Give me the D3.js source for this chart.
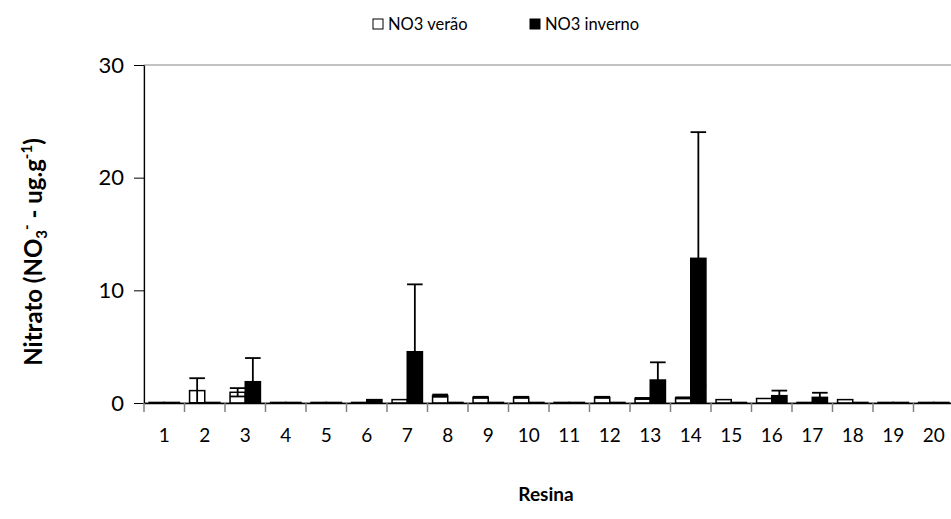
<!DOCTYPE html>
<html>
<head>
<meta charset="utf-8">
<script src="https://cdn.jsdelivr.net/npm/d3@7"></script>
<style>
  html, body { margin: 0; padding: 0; background: #fff; }
  svg { display: block; font-family: Lato, "Open Sans", sans-serif; }
</style>
</head>
<body>
<svg id="chart" width="951" height="519"></svg>
<script>
// Resin samples along the x axis
const categories = ["1","2","3","4","5","6","7","8","9","10","11","12","13","14","15","16","17","18","19","20"];
// Nitrate means (ug/g) for the summer (verão) and winter (inverno) campaigns
const verao   = [0.05, 1.1, 0.95, 0.05, 0.05, 0.05, 0.3, 0.65, 0.5, 0.5, 0.05, 0.5, 0.4, 0.45, 0.3, 0.4, 0.05, 0.3, 0.05, 0.05];
const inverno = [0.05, 0.05, 1.89, 0.05, 0.05, 0.3, 4.55, 0.05, 0.05, 0.05, 0.05, 0.05, 2.04, 12.84, 0.05, 0.65, 0.5, 0.05, 0.05, 0.05];
// Standard deviations (drawn as ± error bars)
const veraoErr   = [0, 1.1, 0.37, 0, 0, 0, 0, 0.1, 0.05, 0.05, 0, 0.05, 0.05, 0.05, 0, 0, 0, 0, 0, 0];
const invernoErr = [0, 0, 2.1, 0, 0, 0, 5.98, 0, 0, 0, 0, 0, 1.57, 11.2, 0, 0.45, 0.41, 0, 0, 0];
const yTicks = [0, 10, 20, 30];
const seriesNames = ["NO3 verão", "NO3 inverno"];

const svg = d3.select("#chart");
const plotLeft = 144, plotTop = 65, plotBottom = 403;
const band = 40.5;
const plotRight = plotLeft + band * categories.length;

const x = d3.scaleBand().domain(categories).range([plotLeft, plotRight]).paddingInner(0).paddingOuter(0);
const xs = d3.scaleBand().domain([0, 1]).range([0, x.bandwidth()]).paddingInner(0).paddingOuter(0.333);
const y = d3.scaleLinear().domain([0, 30]).range([plotBottom, plotTop]);

const series = [
  { name: seriesNames[0], values: verao, err: veraoErr, fill: "#fff" },
  { name: seriesNames[1], values: inverno, err: invernoErr, fill: "#000" }
];

// plot area border (top / right edges)
svg.append("rect")
  .attr("x", plotLeft).attr("y", plotTop)
  .attr("width", plotRight - plotLeft).attr("height", plotBottom - plotTop)
  .attr("fill", "none").attr("stroke", "#868686").attr("stroke-width", 1);

svg.append("clipPath").attr("id", "plotclip")
  .append("rect").attr("x", plotLeft - 20).attr("y", plotTop).attr("width", plotRight - plotLeft + 40).attr("height", plotBottom - plotTop);

// bars
const gBars = svg.append("g");
series.forEach((s, si) => {
  gBars.selectAll(null).data(s.values).join("rect")
    .attr("x", (d, i) => x(categories[i]) + xs(si))
    .attr("y", d => y(d))
    .attr("width", xs.bandwidth())
    .attr("height", d => y(0) - y(d))
    .attr("fill", s.fill)
    .attr("stroke", "#000")
    .attr("stroke-width", 1.5);
});

// error bars (both directions, clipped to the plot area)
const gErr = svg.append("g").attr("clip-path", "url(#plotclip)")
  .attr("stroke", "#000").attr("stroke-width", 1.8).attr("fill", "none");
const capHalf = 7.8;
series.forEach((s, si) => {
  s.values.forEach((v, i) => {
    const e = s.err[i];
    if (!e) return;
    const cx = x(categories[i]) + xs(si) + xs.bandwidth() / 2;
    const hi = y(v + e), lo = y(v - e);
    gErr.append("line").attr("x1", cx).attr("x2", cx).attr("y1", hi).attr("y2", lo);
    gErr.append("line").attr("x1", cx - capHalf).attr("x2", cx + capHalf).attr("y1", hi).attr("y2", hi);
    gErr.append("line").attr("x1", cx - capHalf).attr("x2", cx + capHalf).attr("y1", lo).attr("y2", lo);
  });
});

// y axis
const yAxis = svg.append("g").attr("transform", `translate(${plotLeft},0)`)
  .call(d3.axisLeft(y).tickValues(yTicks).tickSize(10).tickSizeOuter(0).tickPadding(10));
yAxis.select(".domain").attr("stroke", "#000").attr("stroke-width", 1.2);
yAxis.selectAll(".tick line").attr("stroke", "#000");
yAxis.selectAll(".tick text").attr("font-size", 22).attr("font-family", "Lato, sans-serif").attr("fill", "#000");

// x axis
const xAxis = svg.append("g").attr("transform", `translate(0,${plotBottom})`)
  .call(d3.axisBottom(x).tickSize(0).tickPadding(26));
xAxis.select(".domain").attr("stroke", "#000").attr("stroke-width", 1.5);
xAxis.selectAll(".tick text").attr("font-size", 19).attr("font-family", "Lato, sans-serif").attr("fill", "#000");
// category boundary ticks
svg.append("g").selectAll("line").data(d3.range(categories.length + 1)).join("line")
  .attr("x1", i => plotLeft + i * band).attr("x2", i => plotLeft + i * band)
  .attr("y1", plotBottom).attr("y2", plotBottom + 9)
  .attr("stroke", "#808080").attr("stroke-width", 1.5);

// axis titles
svg.append("text")
  .attr("x", (plotLeft + plotRight) / 2 - 3).attr("y", 501)
  .attr("text-anchor", "middle").attr("font-size", 19).attr("font-weight", "bold")
  .text("Resina");

const yt = svg.append("text")
  .attr("transform", "translate(42,252) rotate(-90)")
  .attr("text-anchor", "middle").attr("font-size", 24).attr("font-weight", "bold");
yt.append("tspan").text("Nitrato (NO");
yt.append("tspan").attr("font-size", 15).attr("dy", 5).text("3");
yt.append("tspan").attr("font-size", 15).attr("dy", -15).text("-");
yt.append("tspan").attr("dy", 10).text(" - ug.g");
yt.append("tspan").attr("font-size", 15).attr("dy", -10).text("-1");
yt.append("tspan").attr("dy", 10).text(")");

// legend
const legend = svg.append("g").attr("font-size", 16.5);
const legendItems = [
  { x: 373, fill: "#fff", label: seriesNames[0] },
  { x: 530, fill: "#000", label: seriesNames[1] }
];
legendItems.forEach(it => {
  legend.append("rect").attr("x", it.x).attr("y", 19).attr("width", 10).attr("height", 10)
    .attr("fill", it.fill).attr("stroke", "#000").attr("stroke-width", 1);
  legend.append("text").attr("x", it.x + 15).attr("y", 30).text(it.label);
});
</script>
</body>
</html>
